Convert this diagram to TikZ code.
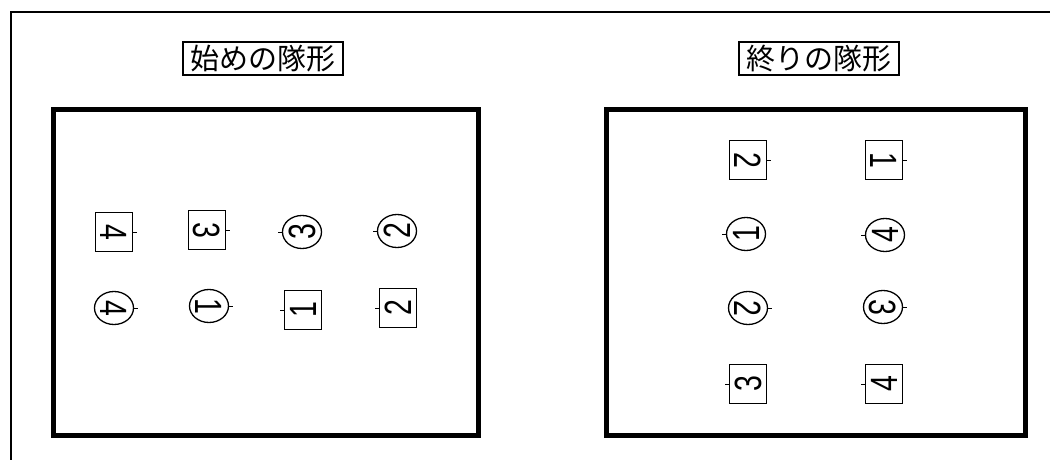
\documentclass[tikz,border=0pt]{standalone}
\usepackage{fontspec}
\setmainfont{Liberation Sans}
\newfontfamily\jpfont{Noto Sans CJK JP}
\newfontfamily\digitfont[FakeStretch=0.75]{Liberation Sans}
\usetikzlibrary{shapes.geometric,calc}

\begin{document}
\begin{tikzpicture}[x=1pt,y=-1pt,
  heading/.style={draw,line width=2pt,inner sep=0pt,minimum width=160pt,minimum height=33pt,
    font=\jpfont\fontsize{29}{29}\selectfont},
  boxline/.style={line width=5pt},
  sq/.style={rectangle,draw,line width=1.3pt,inner sep=0pt,minimum width=39pt,minimum height=37pt,
    font=\digitfont\fontsize{38}{38}\selectfont},
  ov/.style={ellipse,draw,line width=1.3pt,inner sep=0pt,minimum width=33pt,minimum height=39pt,
    font=\digitfont\fontsize{38}{38}\selectfont},
  faceR/.style={rotate=-90},
  faceL/.style={rotate=90},
  facemark/.style={line width=0.8pt}]

\useasboundingbox (0,0) rectangle (1050,460);

% ------------------------------------------------------------------
% Outer frame and the two fields
% ------------------------------------------------------------------
\draw[line width=2.5pt] (1050,12) -- (11,12) -- (11,460);

\draw[boxline] (53,109) rectangle (478,435);
\draw[boxline] (606,109) rectangle (1025,435);

% ------------------------------------------------------------------
% Headings
% ------------------------------------------------------------------
\node[heading] (T1) at (263,59) {始めの隊形};
\node[heading] (T2) at (819,59) {終りの隊形};

% ------------------------------------------------------------------
% Start formation (left field)
% ------------------------------------------------------------------
\node[sq,faceR] (As4) at (114,232) {4};
\node[sq,faceR] (As3) at (207,230) {3};
\node[ov,faceL] (Ac3) at (302,232) {3};
\node[ov,faceL] (Ac2) at (397,231) {2};

\node[ov,faceR] (Ac4) at (114,308) {4};
\node[ov,faceR] (Ac1) at (209,306) {1};
\node[sq,faceL] (As1) at (303,310) {1};
\node[sq,faceL] (As2) at (398,308) {2};

% ------------------------------------------------------------------
% End formation (right field)
% ------------------------------------------------------------------
\node[sq,faceR] (Bs2) at (748,160) {2};
\node[sq,faceR] (Bs1) at (884,160) {1};
\node[ov,faceL] (Bc1) at (746,234) {1};
\node[ov,faceL] (Bc4) at (885,235) {4};
\node[ov,faceR] (Bc2) at (748,308) {2};
\node[ov,faceR] (Bc3) at (883,307) {3};
\node[sq,faceL] (Bs3) at (748,384) {3};
\node[sq,faceL] (Bs4) at (884,384) {4};

% ------------------------------------------------------------------
% Facing marks
% ------------------------------------------------------------------
\foreach \n in {As4,As3,Ac3,Ac2,Ac4,Ac1,As1,As2,Bs2,Bs1,Bc1,Bc4,Bc2,Bc3,Bs3,Bs4}
  \draw[facemark] (\n.north) -- ($(\n.north)!-4pt!(\n.center)$);

\end{tikzpicture}
\end{document}
